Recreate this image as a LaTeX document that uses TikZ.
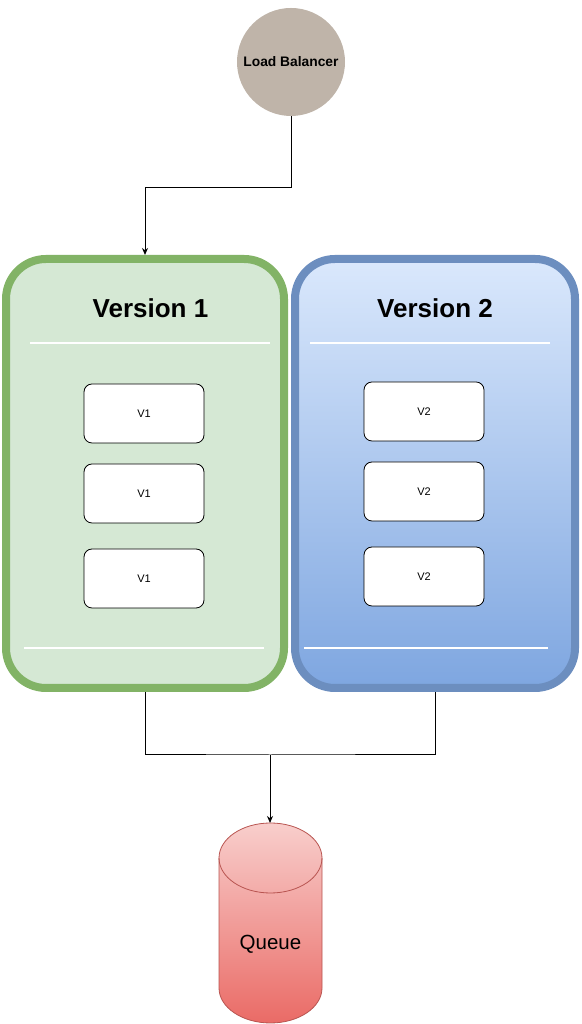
\documentclass[tikz,border=0pt]{standalone}
\usepackage{fontspec}
\setmainfont{Liberation Sans}
\usetikzlibrary{arrows.meta,calc}
\definecolor{lbfill}{HTML}{BFB4A9}
\definecolor{gfill}{HTML}{D5E8D4}
\definecolor{gstroke}{HTML}{82B366}
\definecolor{btop}{HTML}{DAE8FC}
\definecolor{bbot}{HTML}{7EA6E0}
\definecolor{bstroke}{HTML}{6C8EBF}
\definecolor{qtop}{HTML}{F8CECC}
\definecolor{qbot}{HTML}{EA6B66}
\definecolor{qstroke}{HTML}{B85450}
\begin{document}
\begin{tikzpicture}[x=1pt,y=1pt,
  conn/.style={line width=1pt,black},
  arr/.style={conn,-{Stealth[length=7pt,width=6pt]}},
  verbox/.style={rounded corners=40pt,line width=8pt,minimum width=278pt,minimum height=429pt,inner sep=0pt},
  title/.style={font=\fontsize{26}{31}\selectfont\bfseries},
  sep/.style={white,line width=2pt},
  inst/.style={draw=black,line width=0.8pt,fill=white,rounded corners=8pt,minimum width=120pt,minimum height=59pt,inner sep=0pt,font=\fontsize{11}{13}\selectfont}
]
\useasboundingbox (0,0) rectangle (581,1024);

% load balancer
\node[circle,fill=lbfill,minimum size=108pt,inner sep=0pt,font=\fontsize{13.8}{16}\selectfont\bfseries] (lb) at (291,962) {Load Balancer};

% version boxes
\node[verbox,draw=gstroke,fill=gfill] (v1box) at (145,550.5) {};
\node[verbox,draw=bstroke,top color=btop,bottom color=bbot,minimum width=280pt] (v2box) at (435,550.5) {};

\node[title] (t1) at (150.5,716) {Version 1};
\node[title] (t2) at (435,716) {Version 2};

\draw[sep] (30,681) -- (270,681);
\draw[sep] (24,376) -- (264,376);
\draw[sep] (310,681) -- (550,681);
\draw[sep] (304,376) -- (548,376);

% instances
\node[inst] (a1) at (144,610.5) {V1};
\node[inst] (a2) at (144,530.5) {V1};
\node[inst] (a3) at (144,445.5) {V1};
\node[inst] (b1) at (424,612.5) {V2};
\node[inst] (b2) at (424,532.5) {V2};
\node[inst] (b3) at (424,447.5) {V2};

% queue
\shade[top color=qtop,bottom color=qbot,draw=qstroke,line width=0.8pt]
  (219,166) -- (219,36) arc[start angle=180,end angle=360,x radius=51.5,y radius=35]
  -- (322,166) arc[start angle=0,end angle=180,x radius=51.5,y radius=35] -- cycle;
\draw[qstroke,line width=0.8pt] (219,166) arc[start angle=180,end angle=360,x radius=51.5,y radius=35];
\node[font=\fontsize{20.5}{24}\selectfont] (queue) at (270.5,79.5) {Queue};
\coordinate (qtopc) at (270,201);

% connectors
\coordinate (j1) at (145,836);
\coordinate (j2) at (270,269);
\draw[arr] (lb.south) |- (j1) -- (v1box.north);
\draw[conn] (v1box.south) |- (j2) -| (v2box.south);
\draw[arr] (j2) -- (qtopc);
\end{tikzpicture}
\end{document}
